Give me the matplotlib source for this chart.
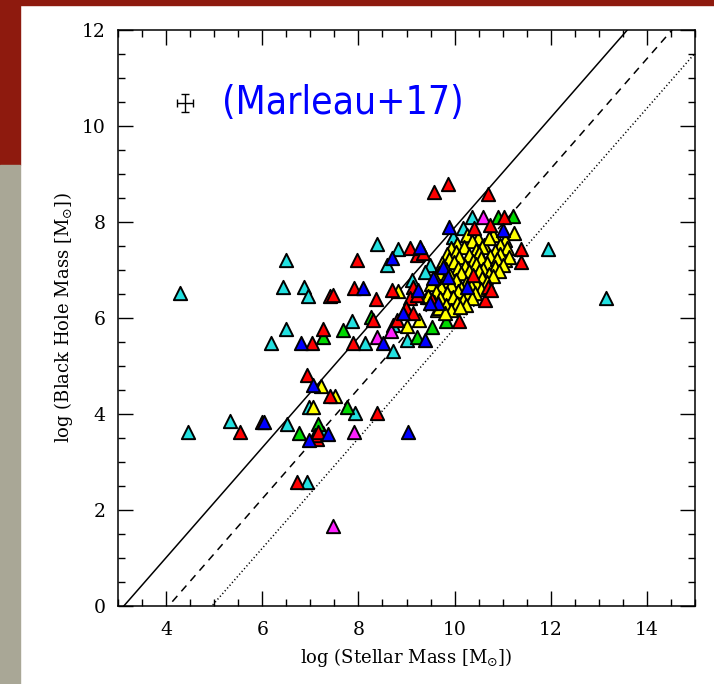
import matplotlib
matplotlib.use("Agg")
import matplotlib.pyplot as plt
from matplotlib.patches import Rectangle
from matplotlib.ticker import MultipleLocator

# galaxies: (log M*, log MBH) per colour
cyan = [(4.29, 6.52), (4.46, 3.63), (5.33, 3.85), (6.49, 7.21), (6.43, 6.65),
        (6.87, 6.65), (6.95, 6.46), (6.49, 5.77), (6.18, 5.48), (6.51, 3.79),
        (7.26, 3.60), (6.93, 2.58), (7.93, 4.02), (7.86, 5.94), (8.14, 5.48),
        (8.72, 5.31), (9.01, 5.54), (8.72, 5.85), (8.38, 7.54), (8.82, 7.44),
        (8.59, 7.10), (9.11, 6.79), (10.36, 8.10), (10.17, 7.88), (9.96, 7.69),
        (11.94, 7.44), (13.15, 6.42), (9.42, 6.44), (9.49, 7.10), (9.38, 6.96),
        (6.97, 4.15)]
red = [(5.54, 3.63), (5.99, 3.83), (6.72, 2.58), (7.41, 6.46), (7.03, 5.48),
       (7.26, 5.77), (6.93, 4.81), (7.14, 3.48), (7.10, 3.56), (7.16, 3.63),
       (7.47, 6.48), (7.91, 6.63), (8.36, 6.40), (8.70, 6.58), (8.30, 5.96),
       (7.89, 5.48), (7.97, 7.21), (8.38, 4.02), (7.41, 4.38), (9.57, 8.63),
       (9.86, 8.79), (10.69, 8.58), (11.02, 8.10), (10.40, 7.88), (10.73, 7.94),
       (11.38, 7.44), (11.38, 7.17), (9.22, 7.31), (9.07, 7.46), (9.34, 7.35),
       (9.13, 6.65), (9.07, 6.42), (9.53, 6.38), (8.99, 6.21), (10.38, 6.90),
       (10.69, 6.65), (10.63, 6.38), (10.09, 5.94), (9.22, 6.48), (9.13, 6.10),
       (8.80, 5.96), (10.75, 6.58)]
blue = [(6.04, 3.83), (6.80, 5.48), (7.05, 4.60), (6.97, 3.46), (7.37, 3.58),
        (9.03, 3.63), (8.09, 6.63), (8.51, 5.48), (9.38, 5.54), (8.70, 7.25),
        (9.88, 7.90), (11.00, 7.83), (9.76, 7.06), (9.55, 6.83), (9.86, 6.85),
        (9.24, 6.58), (9.65, 6.31), (10.26, 6.65), (8.93, 6.10), (9.49, 6.31),
        (9.28, 7.48)]
green = [(7.26, 5.60), (6.76, 3.60), (7.16, 3.79), (7.76, 4.15), (7.68, 5.75),
         (8.26, 6.02), (9.22, 5.60), (9.82, 5.94), (9.53, 5.81), (10.90, 8.10),
         (11.21, 8.13)]
magenta = [(7.91, 3.63), (7.47, 1.67), (8.38, 5.60), (8.68, 5.73), (10.59, 8.10)]
yellow = [(7.22, 4.58), (7.05, 4.15), (7.51, 4.38), (8.82, 6.56), (9.26, 5.96),
          (9.01, 5.83), (9.47, 6.44), (9.28, 6.48), (9.63, 6.17), (11.23, 7.77),
          (11.05, 7.21), (10.98, 7.38),
          (10.25, 7.72), (10.48, 7.66), (10.80, 7.74), (11.05, 7.63), (10.05, 7.55),
          (10.36, 7.60), (10.62, 7.53), (10.71, 7.67), (10.95, 7.52), (9.93, 7.45),
          (10.19, 7.49), (10.44, 7.41), (10.58, 7.47), (10.84, 7.40), (11.10, 7.46),
          (9.84, 7.33), (10.02, 7.38), (10.29, 7.31), (10.50, 7.36), (10.74, 7.30),
          (10.95, 7.34), (11.14, 7.28), (9.88, 7.24), (10.10, 7.27), (10.38, 7.19),
          (10.55, 7.25), (10.67, 7.14), (10.88, 7.22), (11.00, 7.10), (9.74, 7.14),
          (9.99, 7.17), (10.22, 7.09), (10.45, 7.12), (10.60, 7.02), (10.83, 7.07),
          (9.83, 7.02), (10.08, 7.05), (10.30, 6.97), (10.50, 6.99), (10.72, 6.92),
          (10.93, 6.97), (9.67, 6.94), (9.90, 6.90), (10.13, 6.93), (10.39, 6.86),
          (10.58, 6.84), (10.80, 6.88), (9.60, 6.83), (9.78, 6.77), (10.02, 6.80),
          (10.24, 6.74), (10.45, 6.72), (10.67, 6.76), (9.50, 6.70), (9.72, 6.64),
          (9.93, 6.69), (10.14, 6.62), (10.34, 6.66), (10.55, 6.60), (9.62, 6.55),
          (9.85, 6.52), (10.07, 6.57), (10.27, 6.50), (10.43, 6.53), (9.45, 6.45),
          (9.70, 6.41), (9.97, 6.43), (10.18, 6.38), (10.36, 6.42), (9.58, 6.33),
          (9.82, 6.28), (10.05, 6.31), (10.24, 6.27), (9.68, 6.20), (9.93, 6.17),
          (10.12, 6.22), (9.80, 6.10)]

# drawing order: yellow sits under the red and blue points
groups = [("#22e0e0", cyan), ("#00d800", green), ("#ff22ff", magenta),
          ("#ffff00", yellow), ("#ff0000", red), ("#0000ff", blue)]

# relation lines: log MBH = slope * (log M* - offset)
slope = 1.146
offsets = [3.12, 4.05, 4.95]
styles = ["-", (0, (5, 4)), (0, (0.8, 1.6))]

err_x, err_y = 4.39, 10.48
err_dx, err_dy = 0.17, 0.19

fig = plt.figure(figsize=(7.14, 6.84), dpi=100)
fig.patch.set_facecolor("white")
fig.patches.append(Rectangle((0, 0.759), 0.028, 0.241, transform=fig.transFigure,
                             color="#8e1a0e", zorder=-1))
fig.patches.append(Rectangle((0, 0), 0.028, 0.759, transform=fig.transFigure,
                             color="#a9a796", zorder=-1))
fig.patches.append(Rectangle((0, 0.993), 1, 0.007, transform=fig.transFigure,
                             color="#8e1a0e", zorder=-1))

ax = fig.add_axes([0.1653, 0.1140, 0.8081, 0.8421])

xs = [3, 15]
for off, ls in zip(offsets, styles):
    ax.plot(xs, [slope * (x - off) for x in xs], color="black", lw=1.1, ls=ls, zorder=1)

for col, pts in groups:
    ax.scatter([p[0] for p in pts], [p[1] for p in pts], marker="^", s=92,
               facecolor=col, edgecolor="black", linewidths=1.4, zorder=3)

ax.errorbar([err_x], [err_y], xerr=[err_dx], yerr=[err_dy], color="black",
            lw=1, capsize=3, capthick=1)

ax.text(5.16, 10.48, "(Marleau+17)", color="#0000ff", fontsize=28,
        family="DejaVu Sans", fontstretch="condensed", ha="left", va="center")

ax.set_xlim(3, 15)
ax.set_ylim(0, 12)
ax.xaxis.set_major_locator(MultipleLocator(2))
ax.xaxis.set_minor_locator(MultipleLocator(0.5))
ax.yaxis.set_major_locator(MultipleLocator(2))
ax.yaxis.set_minor_locator(MultipleLocator(0.5))
ax.tick_params(which="both", direction="in", top=True, right=True, width=1,
               labelsize=13.5, labelfontfamily="DejaVu Serif")
ax.tick_params(which="major", length=10.5)
ax.tick_params(which="minor", length=5)
ax.tick_params(axis="x", pad=11)
ax.tick_params(axis="y", pad=9)
for s in ax.spines.values():
    s.set_linewidth(1.1)

ax.set_xlabel(r"log (Stellar Mass [M$_{\odot}$])", family="DejaVu Serif", fontsize=13, labelpad=5)
ax.set_ylabel(r"log (Black Hole Mass [M$_{\odot}$])", family="DejaVu Serif", fontsize=13, labelpad=5)

fig.savefig("out.png", dpi=100)
